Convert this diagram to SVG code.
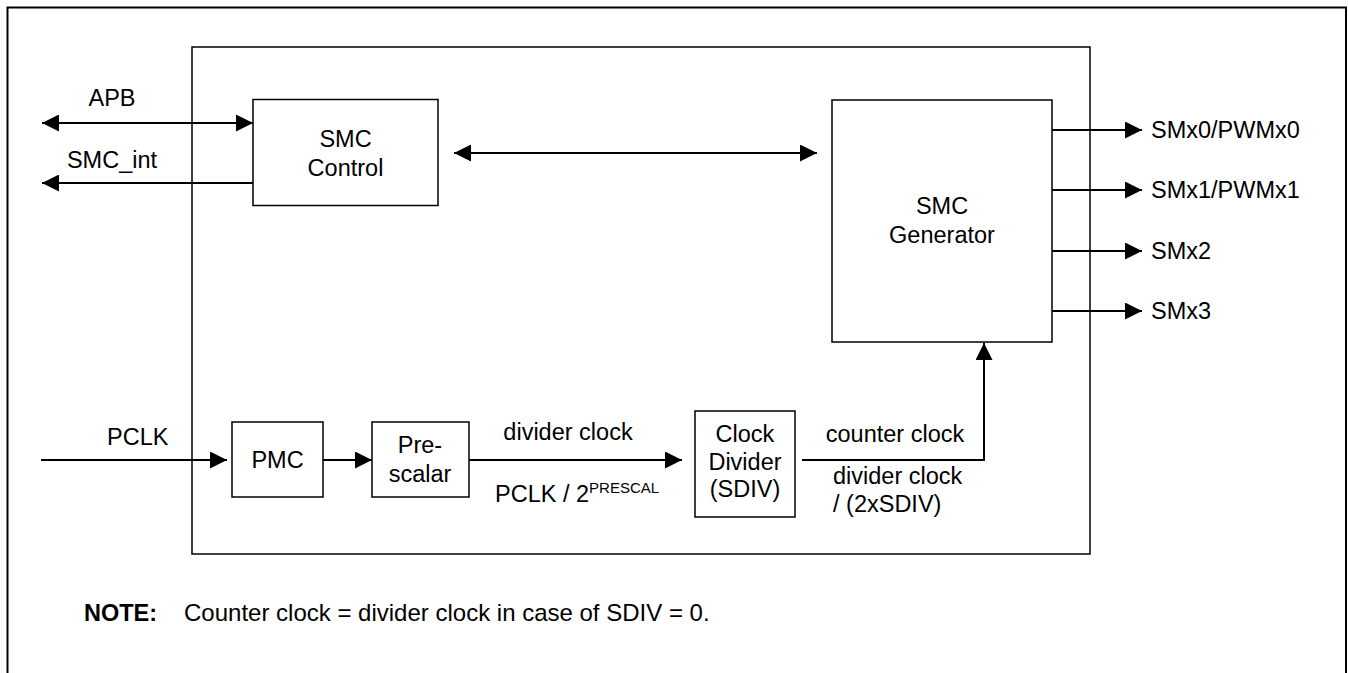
<svg xmlns="http://www.w3.org/2000/svg" width="1348" height="673" viewBox="0 0 1348 673">
<style>
  .box { fill: #fff; stroke: #000; stroke-width: 1.5; }
  .frame { fill: none; stroke: #000; }
  .wire { fill: none; stroke: #000; stroke-width: 2; }
  .t { font-family: "Liberation Sans", Arial, sans-serif; font-size: 23.5px; fill: #000; }
  .c { text-anchor: middle; }
  .b { font-weight: bold; }
  .sup { font-size: 15px; }
</style>
<defs>
  <marker id="ah" markerUnits="userSpaceOnUse" markerWidth="17" markerHeight="17" viewBox="0 0 16 16" refX="16" refY="8" orient="auto-start-reverse">
    <path d="M0,0 L16,8 L0,16 z" fill="#000"/>
  </marker>
</defs>
<rect width="1348" height="673" fill="#fff"/>
<g id="outer-frame">
  <rect class="frame" x="7.5" y="7.5" width="1338.5" height="700" stroke-width="2"/>
</g>
<g id="smc-block">
  <rect class="frame" x="192" y="47" width="898" height="507" stroke-width="1.5"/>
</g>
<g id="connectors">
  <line class="wire" x1="42" y1="123" x2="253" y2="123" marker-start="url(#ah)" marker-end="url(#ah)"/>
  <line class="wire" x1="253" y1="183" x2="42" y2="183" marker-end="url(#ah)" stroke-width="1.5"/>
  <line class="wire" x1="454" y1="153" x2="817" y2="153" marker-start="url(#ah)" marker-end="url(#ah)"/>
  <line class="wire" x1="1052" y1="130" x2="1142" y2="130" marker-end="url(#ah)" stroke-width="1.5"/>
  <line class="wire" x1="1052" y1="190" x2="1142" y2="190" marker-end="url(#ah)" stroke-width="1.5"/>
  <line class="wire" x1="1052" y1="251" x2="1142" y2="251" marker-end="url(#ah)" stroke-width="1.5"/>
  <line class="wire" x1="1052" y1="311" x2="1142" y2="311" marker-end="url(#ah)" stroke-width="1.5"/>
  <line class="wire" x1="41" y1="460" x2="227" y2="460" marker-end="url(#ah)"/>
  <line class="wire" x1="323" y1="460" x2="372" y2="460" marker-end="url(#ah)"/>
  <line class="wire" x1="469" y1="460" x2="682" y2="460" marker-end="url(#ah)"/>
  <polyline class="wire" points="802,460 984,460 984,343" marker-end="url(#ah)"/>
</g>
<g id="smc-control">
  <rect class="box" x="253" y="99.5" width="185" height="106"/>
  <text class="t c" x="345.5" y="147">SMC</text>
  <text class="t c" x="345.5" y="176">Control</text>
</g>
<g id="smc-generator">
  <rect class="box" x="832" y="100" width="220" height="242"/>
  <text class="t c" x="942" y="214">SMC</text>
  <text class="t c" x="942" y="243">Generator</text>
</g>
<g id="pmc">
  <rect class="box" x="232" y="422" width="91" height="75"/>
  <text class="t c" x="277.5" y="468">PMC</text>
</g>
<g id="prescalar">
  <rect class="box" x="372" y="422" width="97" height="75"/>
  <text class="t c" x="420" y="453">Pre-</text>
  <text class="t c" x="420" y="482">scalar</text>
</g>
<g id="clock-divider">
  <rect class="box" x="695" y="411" width="100" height="106"/>
  <text class="t c" x="745" y="442">Clock</text>
  <text class="t c" x="745" y="470">Divider</text>
  <text class="t c" x="745" y="497">(SDIV)</text>
</g>
<g id="labels">
  <text class="t c" x="112" y="106">APB</text>
  <text class="t c" x="112" y="168">SMC_int</text>
  <text class="t" x="107" y="445">PCLK</text>
  <text class="t c" x="568" y="440">divider clock</text>
  <text class="t" x="495" y="502">PCLK / 2<tspan class="sup" dy="-9">PRESCAL</tspan></text>
  <text class="t c" x="895" y="442">counter clock</text>
  <text class="t" x="833" y="484">divider clock</text>
  <text class="t" x="833" y="512">/ (2xSDIV)</text>
  <text class="t" x="1151" y="138">SMx0/PWMx0</text>
  <text class="t" x="1151" y="198">SMx1/PWMx1</text>
  <text class="t" x="1151" y="259">SMx2</text>
  <text class="t" x="1151" y="319">SMx3</text>
</g>
<g id="note">
  <text class="t b" x="84" y="621">NOTE:</text>
  <text class="t" x="184" y="621" style="font-size:24px">Counter clock = divider clock in case of SDIV = 0.</text>
</g>
</svg>
